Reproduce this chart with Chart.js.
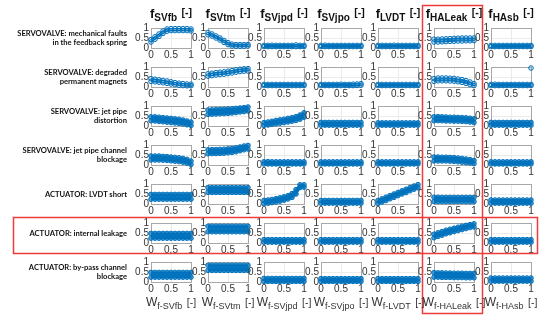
<!DOCTYPE html>
<html>
<head>
<meta charset="utf-8">
<script src="https://cdn.jsdelivr.net/npm/chart.js@4.4.1/dist/chart.umd.min.js"></script>
<style>
  body { margin: 0; background: #fff; }
  #fig { position: relative; width: 550px; height: 322px; overflow: hidden; font-family: 'Liberation Sans', Arial, sans-serif; }
  #main { position: absolute; left: 0; top: 0; }
  .rowlab { position: absolute; right: 423px; width: 150px; text-align: right; font: bold 7.6px Lato, sans-serif; line-height: 9px; color: #111; transform: translateY(-50%); white-space: pre; }
  .title { position: absolute; width: 80px; text-align: center; font-weight: bold; color: #111; white-space: nowrap; }
  .title .f { font-size: 13px; }
  .title sub { font-size: 10px; vertical-align: -3px; }
  .title .u { font-size: 10.5px; vertical-align: 2px; }
  .xlab { position: absolute; width: 80px; text-align: center; color: #333; white-space: nowrap; }
  .xlab .w { font-size: 12px; }
  .xlab sub { font-size: 9px; vertical-align: -3px; }
  .xlab .u { font-size: 10.5px; }
</style>
</head>
<body>
<div id="fig"><canvas id="main" width="550" height="322"></canvas></div>
<script>
// x positions of the sampled points and axis ticks
const xValues = [0, 0.1, 0.2, 0.3, 0.4, 0.5, 0.6, 0.7, 0.8, 0.9, 1];
const tickValues = [0, 0.5, 1];

const features = ['SVfb', 'SVtm', 'SVjpd', 'SVjpo', 'LVDT', 'HALeak', 'HAsb'];
const faults = [
  'SERVOVALVE: mechanical faults\nin the feedback spring',
  'SERVOVALVE: degraded\npermanent magnets',
  'SERVOVALVE: jet pipe\ndistortion',
  'SERVOVALVE: jet pipe channel\nblockage',
  'ACTUATOR: LVDT short',
  'ACTUATOR: internal leakage',
  'ACTUATOR: by-pass channel\nblockage'
];

// each panel: [lower edge of the point cloud, upper edge]
const feedbackSpring = [
  [[.30,.44,.58,.73,.84,.87,.87,.87,.87,.87,.85], [.42,.56,.70,.85,.95,.97,.97,.97,.97,.97,.95]],
  [[.66,.60,.50,.40,.28,.17,.10,.09,.09,.09,.10], [.78,.70,.60,.50,.38,.27,.19,.17,.17,.17,.18]],
  [[.07,.07,.07,.07,.07,.07,.07,.07,.07,.07,.07], [.13,.13,.14,.13,.13,.13,.13,.13,.15,.13,.13]],
  [[.07,.07,.07,.07,.07,.07,.07,.07,.07,.07,.07], [.13,.14,.13,.13,.13,.13,.13,.13,.13,.13,.13]],
  [[.07,.07,.07,.07,.07,.07,.07,.07,.07,.07,.07], [.13,.13,.13,.13,.14,.13,.13,.13,.13,.13,.13]],
  [[.30,.30,.31,.32,.33,.34,.35,.35,.36,.36,.37], [.44,.44,.45,.46,.47,.48,.49,.50,.50,.50,.50]],
  [[.07,.07,.07,.07,.07,.07,.07,.07,.07,.07,.07], [.13,.13,.13,.13,.13,.13,.13,.13,.13,.13,.13]]
];
const permanentMagnets = [
  [[.28,.26,.24,.21,.18,.15,.12,.09,.07,.06,.06], [.42,.39,.36,.33,.30,.26,.22,.19,.17,.15,.14]],
  [[.54,.57,.60,.62,.64,.67,.70,.74,.77,.79,.80], [.66,.69,.72,.74,.76,.79,.82,.86,.89,.91,.92]],
  [[.07,.07,.07,.07,.07,.07,.07,.07,.07,.07,.07], [.13,.13,.13,.13,.13,.13,.13,.13,.13,.13,.13]],
  [[.07,.07,.07,.07,.07,.07,.07,.07,.07,.08,.09], [.13,.13,.13,.13,.13,.14,.13,.13,.14,.15,.17]],
  [[.07,.07,.07,.07,.07,.07,.07,.07,.07,.07,.07], [.13,.13,.13,.13,.13,.13,.13,.13,.13,.13,.13]],
  [[.28,.31,.31,.31,.30,.29,.26,.23,.18,.12,.07], [.42,.45,.45,.45,.44,.43,.40,.37,.32,.25,.17]],
  [[.07,.07,.07,.07,.07,.07,.07,.07,.07,.07,.07], [.13,.14,.13,.13,.13,.13,.13,.13,.13,.13,.13]]
];
const permanentMagnetsOutlier = [{ x: 1, y: 0.95 }];
const jetPipeDistortion = [
  [[.26,.25,.23,.21,.19,.17,.15,.13,.10,.06,.03], [.46,.46,.44,.42,.40,.38,.36,.34,.30,.25,.20]],
  [[.58,.59,.60,.61,.62,.63,.65,.67,.70,.72,.75], [.80,.81,.82,.83,.84,.85,.86,.88,.90,.92,.95]],
  [[.03,.05,.08,.11,.14,.17,.20,.24,.28,.34,.44], [.17,.20,.24,.28,.31,.34,.38,.42,.47,.55,.66]],
  [[.04,.04,.04,.04,.04,.04,.04,.04,.04,.04,.04], [.18,.18,.18,.18,.18,.18,.18,.18,.18,.18,.18]],
  [[.04,.04,.04,.04,.04,.04,.04,.04,.04,.04,.04], [.16,.16,.16,.16,.16,.16,.16,.16,.16,.16,.16]],
  [[.26,.27,.26,.25,.25,.24,.24,.23,.22,.20,.17], [.46,.47,.46,.45,.44,.44,.43,.42,.41,.39,.36]],
  [[.04,.04,.04,.04,.04,.04,.04,.04,.04,.04,.04], [.18,.18,.18,.18,.18,.18,.18,.18,.18,.18,.18]]
];
const jetPipeBlockage = [
  [[.25,.25,.25,.24,.23,.21,.19,.17,.14,.09,.03], [.45,.45,.45,.43,.42,.40,.38,.36,.33,.28,.20]],
  [[.56,.57,.57,.58,.59,.61,.63,.66,.71,.76,.80], [.76,.77,.77,.78,.79,.81,.83,.86,.90,.95,.98]],
  [[.05,.05,.05,.05,.05,.05,.05,.05,.05,.05,.05], [.16,.17,.16,.16,.16,.16,.16,.16,.16,.16,.16]],
  [[.05,.05,.05,.05,.05,.05,.05,.05,.05,.05,.05], [.16,.16,.16,.16,.16,.16,.16,.16,.16,.16,.16]],
  [[.05,.05,.05,.05,.05,.05,.05,.05,.05,.05,.05], [.16,.16,.16,.16,.16,.16,.16,.16,.16,.16,.16]],
  [[.20,.20,.20,.20,.19,.18,.16,.14,.12,.10,.07], [.40,.40,.39,.39,.38,.37,.35,.33,.30,.27,.23]],
  [[.05,.05,.05,.05,.05,.05,.05,.05,.05,.05,.05], [.16,.16,.16,.16,.16,.16,.16,.16,.16,.16,.16]]
];
const lvdtShort = [
  [[.24,.24,.24,.24,.24,.24,.24,.24,.24,.24,.24], [.48,.48,.48,.48,.48,.48,.48,.48,.48,.48,.48]],
  [[.58,.58,.58,.58,.58,.58,.58,.58,.58,.58,.58], [.82,.82,.82,.82,.82,.82,.82,.82,.82,.82,.82]],
  [[.02,.04,.07,.10,.14,.19,.25,.33,.50,.82,.84], [.18,.20,.23,.27,.31,.36,.42,.52,.72,.96,.96]],
  [[.04,.04,.04,.04,.04,.04,.04,.04,.04,.04,.04], [.18,.18,.18,.18,.18,.18,.18,.18,.18,.18,.18]],
  [[.03,.10,.17,.26,.33,.42,.50,.57,.66,.74,.81], [.18,.26,.34,.42,.50,.58,.66,.74,.82,.90,.97]],
  [[.12,.12,.12,.12,.12,.12,.12,.12,.12,.12,.12], [.34,.34,.33,.33,.33,.33,.33,.33,.33,.33,.33]],
  [[.04,.04,.04,.04,.04,.04,.04,.04,.04,.04,.04], [.20,.20,.20,.20,.20,.20,.20,.20,.20,.20,.20]]
];
const internalLeakage = [
  [[.24,.24,.24,.24,.24,.24,.24,.24,.24,.24,.24], [.48,.48,.48,.48,.48,.48,.48,.48,.48,.48,.48]],
  [[.56,.56,.56,.56,.56,.56,.56,.56,.56,.56,.56], [.84,.84,.84,.84,.84,.84,.84,.84,.84,.84,.84]],
  [[.04,.04,.04,.04,.04,.04,.04,.04,.04,.04,.04], [.17,.17,.17,.17,.17,.17,.17,.17,.17,.17,.17]],
  [[.04,.04,.04,.04,.04,.04,.04,.04,.04,.04,.04], [.17,.17,.17,.17,.17,.17,.17,.17,.17,.17,.17]],
  [[.04,.04,.04,.04,.04,.04,.04,.04,.04,.04,.04], [.17,.17,.17,.17,.17,.17,.17,.17,.17,.17,.17]],
  [[.26,.33,.39,.46,.51,.57,.62,.67,.72,.77,.80], [.44,.51,.57,.64,.69,.74,.79,.84,.88,.92,.96]],
  [[.04,.04,.04,.04,.04,.04,.04,.04,.04,.04,.04], [.17,.17,.17,.17,.17,.17,.17,.17,.17,.17,.17]]
];
const bypassBlockage = [
  [[.24,.24,.24,.24,.24,.24,.24,.24,.24,.24,.24], [.48,.48,.48,.48,.48,.48,.48,.48,.48,.48,.48]],
  [[.58,.58,.58,.58,.58,.58,.58,.58,.58,.58,.58], [.84,.84,.84,.84,.84,.84,.84,.84,.84,.84,.84]],
  [[.03,.03,.03,.03,.03,.03,.03,.03,.03,.03,.03], [.18,.18,.18,.18,.18,.18,.18,.18,.18,.18,.18]],
  [[.03,.03,.03,.03,.03,.03,.03,.03,.03,.03,.03], [.17,.17,.17,.17,.17,.17,.17,.17,.17,.17,.17]],
  [[.03,.03,.03,.03,.03,.03,.03,.03,.03,.03,.03], [.17,.17,.17,.17,.17,.17,.17,.17,.17,.17,.17]],
  [[.24,.24,.23,.23,.23,.22,.22,.22,.21,.21,.21], [.47,.46,.46,.45,.45,.44,.44,.44,.43,.43,.43]],
  [[.04,.04,.04,.04,.04,.04,.04,.04,.04,.04,.04], [.20,.20,.20,.20,.20,.20,.20,.20,.20,.20,.20]]
];

const rows = [feedbackSpring, permanentMagnets, jetPipeDistortion, jetPipeBlockage, lvdtShort, internalLeakage, bypassBlockage];

const fig = document.getElementById('fig');
const main = document.getElementById('main').getContext('2d');
const plotW = 40, plotH = 20;
const colLeft = c => Math.round(151 + c * 56.67);
const rowTop = r => Math.round(27.8 + r * 39);
const blue = '#0072BD';

function axis(isX) {
  return {
    type: 'linear', min: 0, max: 1,
    afterBuildTicks: s => { s.ticks = tickValues.map(v => ({ value: v })); },
    afterFit: s => { if (isX) s.height = 13; else s.width = 16; },
    ticks: {
      autoSkip: false, maxRotation: 0, padding: isX ? 1 : 2,
      callback: v => String(v),
      color: '#333', font: { family: 'Liberation Sans', size: 10 }
    },
    grid: {
      drawTicks: false, lineWidth: 1,
      color: ctx => ctx.tick && ctx.tick.value === 0.5 ? '#ebebeb' : '#a8a8a8'
    },
    border: { display: true, color: '#a8a8a8' }
  };
}

function drawPanel(band, r, c) {
  const cv = document.createElement('canvas');
  cv.width = 16 + plotW + 8;
  cv.height = 8 + plotH + 13;
  const dense = r >= 2;
  const pts = arr => xValues.map((x, i) => ({ x: x, y: arr[i] }));
  const common = {
    borderColor: blue, borderWidth: dense ? 2 : 1.2,
    pointRadius: 2.3, pointBorderWidth: 1,
    pointBorderColor: blue,
    pointBackgroundColor: dense ? 'rgba(0,114,189,0.7)' : 'rgba(0,114,189,0.15)',
    clip: 4, tension: 0
  };
  const datasets = [
    Object.assign({ data: pts(band[1]), fill: '+1', backgroundColor: dense ? 'rgba(0,114,189,0.92)' : 'rgba(0,114,189,0.3)' }, common),
    Object.assign({ data: pts(band[0]), fill: false }, common)
  ];
  if (r === 1 && c === 6) {
    datasets.push({ data: permanentMagnetsOutlier, showLine: false, pointRadius: 2.3, pointBorderColor: blue, pointBackgroundColor: 'rgba(0,114,189,0.15)', clip: 4 });
  }
  const chart = new Chart(cv, {
    type: 'line',
    data: { datasets: datasets },
    options: {
      responsive: false, animation: false, devicePixelRatio: 1, events: [],
      layout: { padding: { top: 6, right: 8, left: 0, bottom: 0 } },
      plugins: { legend: { display: false }, tooltip: { enabled: false } },
      scales: { x: axis(true), y: axis(false) }
    }
  });
  chart.draw();
  const ca = chart.chartArea;
  main.drawImage(cv, colLeft(c) - ca.left, rowTop(r) - ca.top);
}

// every panel is its own small chart, rendered off-screen and copied onto the page canvas;
// bottom rows first so each row's x tick labels stay on top
for (let r = rows.length - 1; r >= 0; r--) {
  rows[r].forEach((band, c) => drawPanel(band, r, c));
}

// red highlight boxes
main.strokeStyle = '#ee3b3b';
main.lineWidth = 1.5;
main.strokeRect(422.5, 5.5, 60, 308);
main.strokeRect(13.5, 217.5, 524, 36);

// column titles and x-axis labels
features.forEach((name, c) => {
  const cx = colLeft(c) + plotW / 2;
  const t = document.createElement('div');
  t.className = 'title';
  t.style.left = (cx - 40) + 'px';
  t.style.top = '4px';
  t.innerHTML = '<span class="f">f</span><sub>' + name + '</sub> <span class="u">[-]</span>';
  fig.appendChild(t);
  const b = document.createElement('div');
  b.className = 'xlab';
  b.style.left = (cx - 40) + 'px';
  b.style.top = '292px';
  b.innerHTML = '<span class="w">W</span><sub>f-' + name + '</sub> <span class="u">[-]</span>';
  fig.appendChild(b);
});

// fault labels on the left
faults.forEach((text, r) => {
  const d = document.createElement('div');
  d.className = 'rowlab';
  d.style.top = (rowTop(r) + plotH / 2) + 'px';
  d.textContent = text;
  fig.appendChild(d);
});
</script>
</body>
</html>
